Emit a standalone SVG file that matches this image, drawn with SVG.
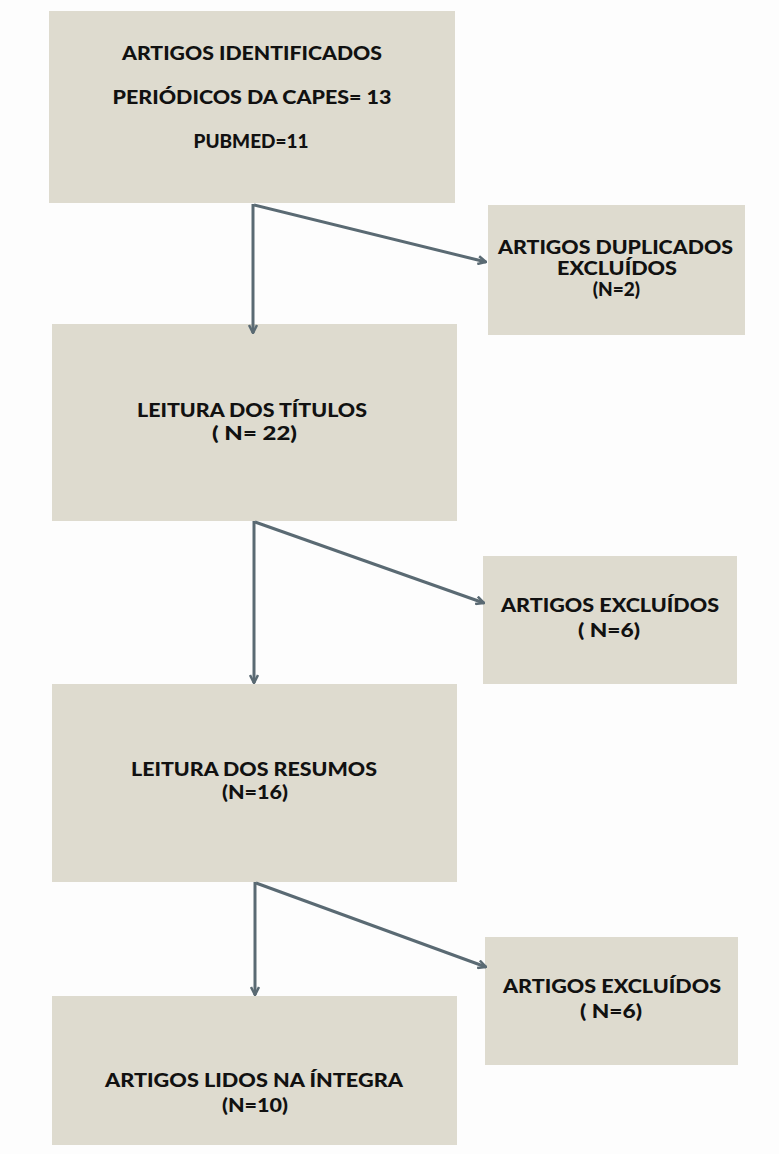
<svg xmlns="http://www.w3.org/2000/svg" width="779" height="1154" viewBox="0 0 779 1154">
<defs>
<style>
.box{fill:#dedbcf;}
.t{font-family:Lato,"Open Sans","Liberation Sans",sans-serif;font-weight:900;font-size:19px;fill:#111;text-anchor:middle;}
.c{fill:none;stroke:#5a6a73;stroke-width:3;}
</style>
<marker id="ah" viewBox="0 0 10 10" refX="9" refY="5" markerWidth="10" markerHeight="10" markerUnits="userSpaceOnUse" orient="auto">
<path d="M1,1 L9,5 L1,9" fill="none" stroke="#5a6a73" stroke-width="2.5"/>
</marker>
</defs>
<rect width="779" height="1154" fill="#fdfdfd"/>
<g id="n1">
<rect class="box" x="49" y="11" width="406" height="192"/>
<text class="t" x="252" y="60" textLength="260" lengthAdjust="spacingAndGlyphs">ARTIGOS IDENTIFICADOS</text>
<text class="t" x="252" y="104" textLength="279" lengthAdjust="spacingAndGlyphs">PERIÓDICOS DA CAPES= 13</text>
<text class="t" x="251" y="148" textLength="115" lengthAdjust="spacingAndGlyphs">PUBMED=11</text>
</g>
<g id="n2">
<rect class="box" x="488" y="205" width="257" height="130"/>
<text class="t" x="615.5" y="254" textLength="235" lengthAdjust="spacingAndGlyphs">ARTIGOS DUPLICADOS</text>
<text class="t" x="617" y="275" textLength="120" lengthAdjust="spacingAndGlyphs">EXCLUÍDOS</text>
<text class="t" x="616.5" y="296">(N=2)</text>
</g>
<g id="n3">
<rect class="box" x="52" y="324" width="405" height="197"/>
<text class="t" x="252" y="417" textLength="230" lengthAdjust="spacingAndGlyphs">LEITURA DOS TÍTULOS</text>
<text class="t" x="254.5" y="440" textLength="85" lengthAdjust="spacingAndGlyphs">( N= 22)</text>
</g>
<g id="n4">
<rect class="box" x="483" y="556" width="254" height="128"/>
<text class="t" x="610" y="612" textLength="218" lengthAdjust="spacingAndGlyphs">ARTIGOS EXCLUÍDOS</text>
<text class="t" x="609" y="637" textLength="62" lengthAdjust="spacingAndGlyphs">( N=6)</text>
</g>
<g id="n5">
<rect class="box" x="52" y="684" width="405" height="198"/>
<text class="t" x="254" y="776" textLength="246" lengthAdjust="spacingAndGlyphs">LEITURA DOS RESUMOS</text>
<text class="t" x="255" y="799" textLength="66" lengthAdjust="spacingAndGlyphs">(N=16)</text>
</g>
<g id="n6">
<rect class="box" x="485" y="937" width="253" height="128"/>
<text class="t" x="612" y="993" textLength="218" lengthAdjust="spacingAndGlyphs">ARTIGOS EXCLUÍDOS</text>
<text class="t" x="611" y="1018" textLength="62" lengthAdjust="spacingAndGlyphs">( N=6)</text>
</g>
<g id="n7">
<rect class="box" x="52" y="996" width="405" height="149"/>
<text class="t" x="254" y="1087" textLength="298" lengthAdjust="spacingAndGlyphs">ARTIGOS LIDOS NA ÍNTEGRA</text>
<text class="t" x="255" y="1112" textLength="66" lengthAdjust="spacingAndGlyphs">(N=10)</text>
</g>
<g id="connectors">
<path class="c" d="M253,204 L253,333" marker-end="url(#ah)"/>
<path class="c" d="M254,205 L486,262" marker-end="url(#ah)"/>
<path class="c" d="M254,521 L254,683" marker-end="url(#ah)"/>
<path class="c" d="M255,522 L484,603" marker-end="url(#ah)"/>
<path class="c" d="M255,882 L255,995" marker-end="url(#ah)"/>
<path class="c" d="M256,883 L486,967" marker-end="url(#ah)"/>
</g>
</svg>
